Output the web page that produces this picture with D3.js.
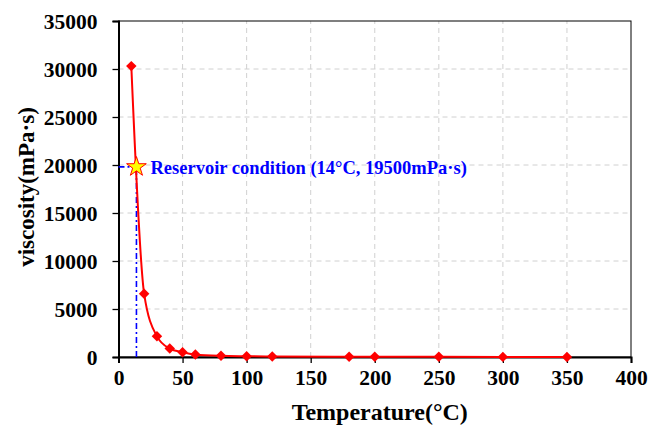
<!DOCTYPE html>
<html>
<head>
<meta charset="utf-8">
<script src="https://cdn.jsdelivr.net/npm/d3@7"></script>
<style>
  body { margin: 0; background: #fff; }
  text { font-family: "Liberation Serif", "Times New Roman", serif; font-weight: bold; }
</style>
</head>
<body>
<div id="chart"></div>
<script>
// temperature (°C) vs viscosity (mPa·s)
var temps = [10, 20, 30, 40, 50, 60, 80, 100, 120, 180, 200, 250, 300, 350];
var viscosity = [30300, 6600, 2150, 880, 500, 260, 120, 80, 50, 25, 20, 15, 12, 10];
// star sits just under the 20000 gridline in the picture
var reservoir = { t: 14, v: 19800, label: "Reservoir condition (14°C, 19500mPa·s)" };
var xTicks = [0, 50, 100, 150, 200, 250, 300, 350, 400];
var yTicks = [0, 5000, 10000, 15000, 20000, 25000, 30000, 35000];

var width = 665, height = 428;
var margin = { left: 118.5, right: 34, top: 21, bottom: 71 };

var svg = d3.select("#chart").append("svg")
    .attr("width", width)
    .attr("height", height);

var x = d3.scaleLinear().domain([0, 400]).range([margin.left, width - margin.right]);
var y = d3.scaleLinear().domain([0, 35000]).range([height - margin.bottom, margin.top]);

// grid
svg.append("g").selectAll("line.vg")
    .data(xTicks.slice(1, -1))
    .enter().append("line")
    .attr("x1", d => x(d)).attr("x2", d => x(d))
    .attr("y1", y(0)).attr("y2", y(35000))
    .attr("stroke", "#d0d0d0").attr("stroke-width", 1)
    .attr("stroke-dasharray", "5,4");

svg.append("g").selectAll("line.hg")
    .data(yTicks.slice(1, -1))
    .enter().append("line")
    .attr("y1", d => y(d)).attr("y2", d => y(d))
    .attr("x1", x(0)).attr("x2", x(400))
    .attr("stroke", "#d0d0d0").attr("stroke-width", 1)
    .attr("stroke-dasharray", "5,4");

// frame
svg.append("rect")
    .attr("x", x(0)).attr("y", y(35000))
    .attr("width", x(400) - x(0)).attr("height", y(0) - y(35000))
    .attr("fill", "none").attr("stroke", "#000").attr("stroke-width", 1);

// axes
var xAxis = svg.append("g")
    .attr("transform", "translate(0," + y(0) + ")")
    .call(d3.axisBottom(x).tickValues(xTicks).tickSize(6).tickPadding(6));
var yAxis = svg.append("g")
    .attr("transform", "translate(" + x(0) + ",0)")
    .call(d3.axisLeft(y).tickValues(yTicks).tickSize(6).tickPadding(15).tickFormat(d3.format("d")));

[xAxis, yAxis].forEach(function(a) {
    a.attr("font-size", null).attr("font-family", null);
    a.select(".domain").attr("stroke", "#000").attr("stroke-width", 2);
    a.selectAll(".tick line").attr("stroke", "#000").attr("stroke-width", 1.3);
    a.selectAll(".tick text")
        .attr("fill", "#000")
        .style("font-size", "21.5px");
});
yAxis.selectAll(".tick text").attr("dy", "0.35em");
xAxis.selectAll(".tick text").attr("dy", "0.75em");

// reservoir guide lines
svg.append("line")
    .attr("x1", x(reservoir.t)).attr("x2", x(reservoir.t))
    .attr("y1", y(0)).attr("y2", y(reservoir.v))
    .attr("stroke", "#0000ff").attr("stroke-width", 1.6)
    .attr("stroke-dasharray", "6,3,2,3");
svg.append("line")
    .attr("x1", x(0)).attr("x2", x(reservoir.t))
    .attr("y1", y(reservoir.v)).attr("y2", y(reservoir.v))
    .attr("stroke", "#0000ff").attr("stroke-width", 1.6)
    .attr("stroke-dasharray", "6,3,2,3");

// curve
var pts = temps.map((t, i) => [t, viscosity[i]]);
var line = d3.line()
    .x(d => x(d[0]))
    .y(d => y(d[1]))
    .curve(d3.curveMonotoneX);

svg.append("path")
    .datum(pts)
    .attr("d", line)
    .attr("fill", "none")
    .attr("stroke", "#ff0000")
    .attr("stroke-width", 2);

svg.append("g").selectAll("path.m")
    .data(pts)
    .enter().append("path")
    .attr("transform", d => "translate(" + x(d[0]) + "," + y(d[1]) + ")")
    .attr("d", d3.symbol().type(d3.symbolDiamond2).size(70))
    .attr("fill", "#ff0000");

// star
svg.append("path")
    .attr("transform", "translate(" + x(reservoir.t) + "," + y(reservoir.v) + ")")
    .attr("d", d3.symbol().type(d3.symbolStar).size(120))
    .attr("fill", "#ffff00")
    .attr("stroke", "#ff0000")
    .attr("stroke-width", 1);

svg.append("text")
    .attr("x", x(reservoir.t) + 14)
    .attr("y", y(reservoir.v) + 7)
    .attr("fill", "#0000ff")
    .style("font-size", "18.5px")
    .text(reservoir.label);

// axis titles
svg.append("text")
    .attr("x", (x(0) + x(400)) / 2 + 5)
    .attr("y", 420)
    .attr("text-anchor", "middle")
    .style("font-size", "24px")
    .text("Temperature(°C)");

svg.append("text")
    .attr("transform", "translate(34," + ((y(0) + y(35000)) / 2 - 2) + ") rotate(-90)")
    .attr("text-anchor", "middle")
    .style("font-size", "23px")
    .text("viscosity(mPa·s)");
</script>
</body>
</html>
